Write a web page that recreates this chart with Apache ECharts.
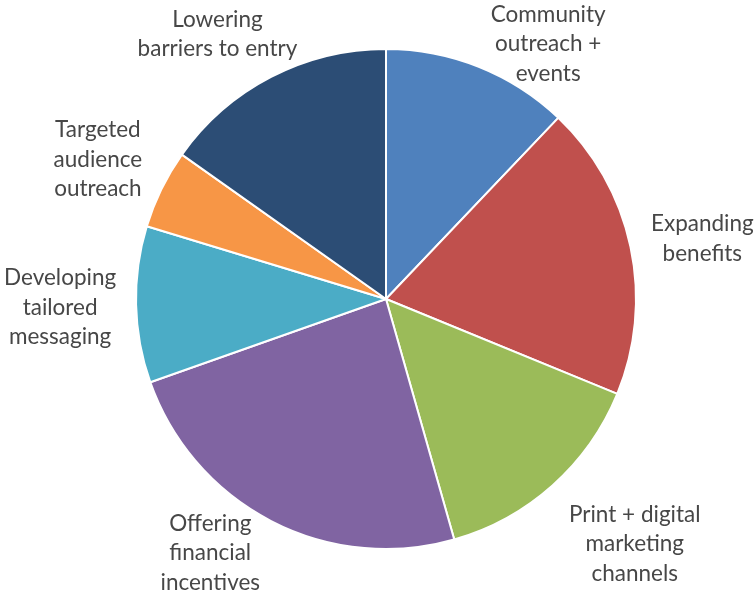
<!DOCTYPE html>
<html>
<head>
<meta charset="utf-8">
<script src="https://cdn.jsdelivr.net/npm/echarts@6/dist/echarts.min.js"></script>
<style>
  html, body { margin: 0; padding: 0; background: #fff; }
  #chart { width: 755px; height: 597px; }
</style>
</head>
<body>
<div id="chart"></div>
<script>
// Slice names (clockwise from 12 o'clock) and their shares in percent
const categories = [
  'Community\noutreach +\nevents',
  'Expanding\nbenefits',
  'Print + digital\nmarketing\nchannels',
  'Offering\nfinancial\nincentives',
  'Developing\ntailored\nmessaging',
  'Targeted\naudience\noutreach',
  'Lowering\nbarriers to entry'
];
const shares = [12.1, 19.1, 14.4, 24.0, 10.1, 5.1, 15.2];

const colors = ['#4F81BD', '#C0504D', '#9BBB59', '#8064A2', '#4BACC6', '#F79646', '#2C4D75'];

// Pie geometry (pixels)
const cx = 386, cy = 299, radius = 250;

// Label placement around each slice: [angle shift from slice middle (deg), distance from centre (px)]
const labelPlacement = [
  [10.7, 302], [1.3, 322], [-3.7, 349], [7.3, 309], [-0.2, 326], [-0.3, 320], [-5.1, 314]
];

// Middle angle of every slice, measured clockwise from 12 o'clock
const total = shares.reduce((a, b) => a + b, 0);
const midAngles = [];
let acc = 0;
shares.forEach(v => {
  midAngles.push((acc + v / 2) / total * 360);
  acc += v;
});

const chart = echarts.init(document.getElementById('chart'), null, { renderer: 'canvas' });
chart.setOption({
  animation: false,
  backgroundColor: '#ffffff',
  color: colors,
  series: [{
    type: 'pie',
    center: [cx, cy],
    radius: radius,
    startAngle: 90,
    clockwise: true,
    avoidLabelOverlap: false,
    itemStyle: { borderColor: '#ffffff', borderWidth: 2 },
    label: {
      show: true,
      position: 'outside',
      formatter: '{b}',
      color: '#474747',
      fontFamily: 'Lato',
      fontSize: 22.5,
      lineHeight: 29.5
    },
    labelLine: { show: false },
    labelLayout: function (p) {
      const i = p.dataIndex;
      const a = (midAngles[i] + labelPlacement[i][0]) * Math.PI / 180;
      const d = labelPlacement[i][1];
      return {
        x: cx + d * Math.sin(a),
        y: cy - d * Math.cos(a),
        align: 'center',
        verticalAlign: 'middle'
      };
    },
    data: categories.map((c, i) => ({ name: c, value: shares[i] }))
  }]
});
</script>
</body>
</html>
